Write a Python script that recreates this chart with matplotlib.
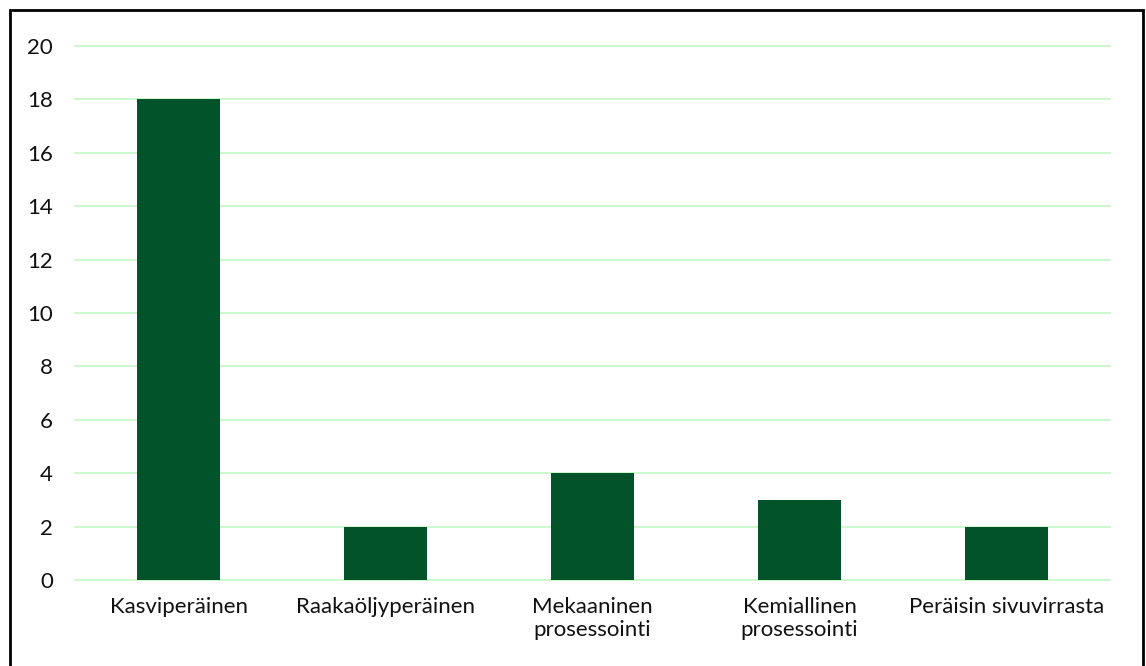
import matplotlib.pyplot as plt
from matplotlib.patches import Rectangle

categories = ["Kasviperäinen", "Raakaöljyperäinen", "Mekaaninen\nprosessointi",
              "Kemiallinen\nprosessointi", "Peräisin sivuvirrasta"]
values = [18, 2, 4, 3, 2]
yticks = [0, 2, 4, 6, 8, 10, 12, 14, 16, 18, 20]

plt.rcParams['font.family'] = ['Lato', 'DejaVu Sans']

fig = plt.figure(figsize=(11.46, 6.66), dpi=100)
ax = fig.add_axes([75 / 1146, 1 - 580 / 666, 1035 / 1146, 534 / 666])

x = range(len(categories))
ax.bar(x, values, width=0.4, color="#02532A", zorder=3)

ax.set_xlim(-0.5, len(categories) - 0.5)
ax.set_ylim(0, 20)
ax.set_yticks(yticks)
ax.set_xticks(list(x))
ax.set_xticklabels(categories, fontsize=16, color="#111111", linespacing=1.2)
ax.tick_params(axis="y", labelsize=16, labelcolor="#111111", length=0, pad=16)
ax.tick_params(axis="x", length=0, pad=12)
ax.grid(axis="y", color="#C8F8C8", linewidth=1.3, zorder=0)
for gl in ax.get_ygridlines():
    gl.set_clip_on(False)
for s in ax.spines.values():
    s.set_visible(False)

# outer frame (bottom edge runs off the image)
fig.patches.append(Rectangle((10 / 1146, -0.05), 1133 / 1146, 1.05 - 10 / 666,
                             transform=fig.transFigure, fill=False,
                             edgecolor="black", linewidth=2))

fig.savefig("out.png", dpi=100)
